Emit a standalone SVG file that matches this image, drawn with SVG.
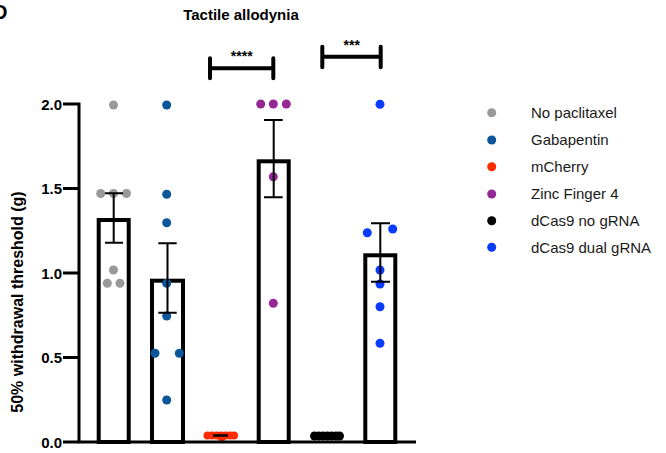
<svg xmlns="http://www.w3.org/2000/svg" width="666" height="453" viewBox="0 0 666 453">
<style>
text{font-family:"Liberation Sans",Arial,sans-serif}
.b{font-weight:bold}
.tick{font-size:15px;font-weight:bold;text-anchor:end;fill:#000}
.leg{font-size:15px;fill:#1a1a1a}
.bar{fill:#fff;stroke:#000;stroke-width:4}
.ax{stroke:#000;stroke-width:3;fill:none}
.err{stroke:#000;stroke-width:2;fill:none}
.sig{stroke:#000;stroke-width:4;fill:none;stroke-linecap:round}
.g{fill:#999}
.gb{fill:#0b5799}
.mc{fill:#ff2a00}
.zf{fill:#962896}
.dc{fill:#000}
.dd{fill:#0a3cff}
</style>
<rect width="666" height="453" fill="#fff"/>
<text x="-7" y="19" class="b" font-size="20">D</text>
<text x="241" y="20" class="b" font-size="15" text-anchor="middle">Tactile allodynia</text>

<g id="yaxis">
<path class="ax" d="M79,102.5 V443 M63,104 H80 M63,188.5 H79 M63,273 H79 M63,357.5 H79 M63,442 H79"/>
<text class="tick" x="62" y="110">2.0</text>
<text class="tick" x="62" y="194">1.5</text>
<text class="tick" x="62" y="278.5">1.0</text>
<text class="tick" x="62" y="363">0.5</text>
<text class="tick" x="62" y="447.5">0.0</text>
<text class="b" font-size="16" text-anchor="middle" transform="translate(23,302) rotate(-90)">50% withdrawal threshold (g)</text>
</g>

<g id="bar-no-paclitaxel">
<rect class="bar" x="98.7" y="220" width="30" height="222"/>
<circle class="g" cx="113.5" cy="105" r="4.5"/>
<circle class="g" cx="100.7" cy="193.5" r="4.5"/>
<circle class="g" cx="113.5" cy="193.5" r="4.5"/>
<circle class="g" cx="126.5" cy="193.5" r="4.5"/>
<circle class="g" cx="113.5" cy="270" r="4.5"/>
<circle class="g" cx="107.3" cy="283.3" r="4.5"/>
<circle class="g" cx="120" cy="283.3" r="4.5"/>
<path class="err" d="M113.7,193.3 V242.7 M105,193.3 H123 M105,242.7 H123"/>
</g>

<g id="bar-gabapentin">
<rect class="bar" x="152" y="280.7" width="31" height="161.3"/>
<circle class="gb" cx="166.7" cy="105" r="4.5"/>
<circle class="gb" cx="166.7" cy="194.3" r="4.5"/>
<circle class="gb" cx="166.7" cy="222.7" r="4.5"/>
<circle class="gb" cx="166.7" cy="283.3" r="4.5"/>
<circle class="gb" cx="166.7" cy="316" r="4.5"/>
<circle class="gb" cx="155" cy="353.3" r="4.5"/>
<circle class="gb" cx="179.3" cy="353.3" r="4.5"/>
<circle class="gb" cx="166.7" cy="400" r="4.5"/>
<path class="err" d="M167.5,243.3 V312.7 M158.3,243.3 H176.7 M158.3,312.7 H176.7"/>
</g>

<g id="bar-mcherry">
<circle class="mc" cx="207.5" cy="435.5" r="4"/>
<circle class="mc" cx="212" cy="435.5" r="4"/>
<circle class="mc" cx="216.5" cy="435.5" r="4"/>
<circle class="mc" cx="221" cy="435.5" r="4"/>
<circle class="mc" cx="225.5" cy="435.5" r="4"/>
<circle class="mc" cx="230" cy="435.5" r="4"/>
<circle class="mc" cx="234" cy="435.5" r="4"/>
<circle class="mc" cx="221.7" cy="437.5" r="4"/>
<path d="M213,435.5 H228" stroke="#000" stroke-width="2.5"/>
</g>

<g id="bar-zinc-finger-4">
<rect class="bar" x="258.7" y="161.3" width="30" height="280.7"/>
<circle class="zf" cx="260.7" cy="104" r="4.5"/>
<circle class="zf" cx="273.3" cy="104" r="4.5"/>
<circle class="zf" cx="286.3" cy="104" r="4.5"/>
<circle class="zf" cx="273.3" cy="176.7" r="4.5"/>
<circle class="zf" cx="273.3" cy="303.3" r="4.5"/>
<path class="err" d="M273.7,120 V197.3 M264,120 H282.7 M264,197.3 H282.7"/>
</g>

<g id="bar-dcas9-no-grna">
<circle class="dc" cx="314.5" cy="436" r="4.5"/>
<circle class="dc" cx="318.8" cy="436" r="4.5"/>
<circle class="dc" cx="323.1" cy="436" r="4.5"/>
<circle class="dc" cx="327.4" cy="436" r="4.5"/>
<circle class="dc" cx="331.7" cy="436" r="4.5"/>
<circle class="dc" cx="336" cy="436" r="4.5"/>
<circle class="dc" cx="339.5" cy="436" r="4.5"/>
</g>

<g id="bar-dcas9-dual-grna">
<rect class="bar" x="365.3" y="255.3" width="30" height="186.7"/>
<circle class="dd" cx="380" cy="104.3" r="4.5"/>
<circle class="dd" cx="367.3" cy="232.7" r="4.5"/>
<circle class="dd" cx="392.7" cy="229" r="4.5"/>
<circle class="dd" cx="380" cy="270" r="4.5"/>
<circle class="dd" cx="380" cy="284" r="4.5"/>
<circle class="dd" cx="380" cy="306.7" r="4.5"/>
<circle class="dd" cx="380" cy="343.3" r="4.5"/>
<path class="err" d="M380.3,223.3 V281.7 M371,223.3 H390 M371,281.7 H390"/>
</g>

<g id="xaxis">
<path class="ax" d="M78,442 H416"/>
</g>

<g id="connectors">
<path class="sig" d="M210,58.3 V78.3 M273.3,58.3 V78.3 M210,68.3 H273.3"/>
<text x="241.7" y="61" class="b" font-size="14" text-anchor="middle">****</text>
<path class="sig" d="M322.3,46.7 V67.3 M380.7,46.7 V67.3 M322.3,56.7 H380.7"/>
<text x="351.7" y="50" class="b" font-size="14" text-anchor="middle">***</text>
</g>

<g id="legend">
<circle class="g" cx="491.7" cy="112.7" r="4.5"/>
<text class="leg" x="531" y="118">No paclitaxel</text>
<circle class="gb" cx="491.7" cy="140" r="4.5"/>
<text class="leg" x="531" y="145.3">Gabapentin</text>
<circle class="mc" cx="491.7" cy="166.7" r="4.5"/>
<text class="leg" x="531" y="172">mCherry</text>
<circle class="zf" cx="491.7" cy="194" r="4.5"/>
<text class="leg" x="531" y="199.3">Zinc Finger 4</text>
<circle class="dc" cx="491.7" cy="220.7" r="4.5"/>
<text class="leg" x="531" y="226">dCas9 no gRNA</text>
<circle class="dd" cx="491.7" cy="247.3" r="4.5"/>
<text class="leg" x="531" y="252.6">dCas9 dual gRNA</text>
</g>
</svg>
